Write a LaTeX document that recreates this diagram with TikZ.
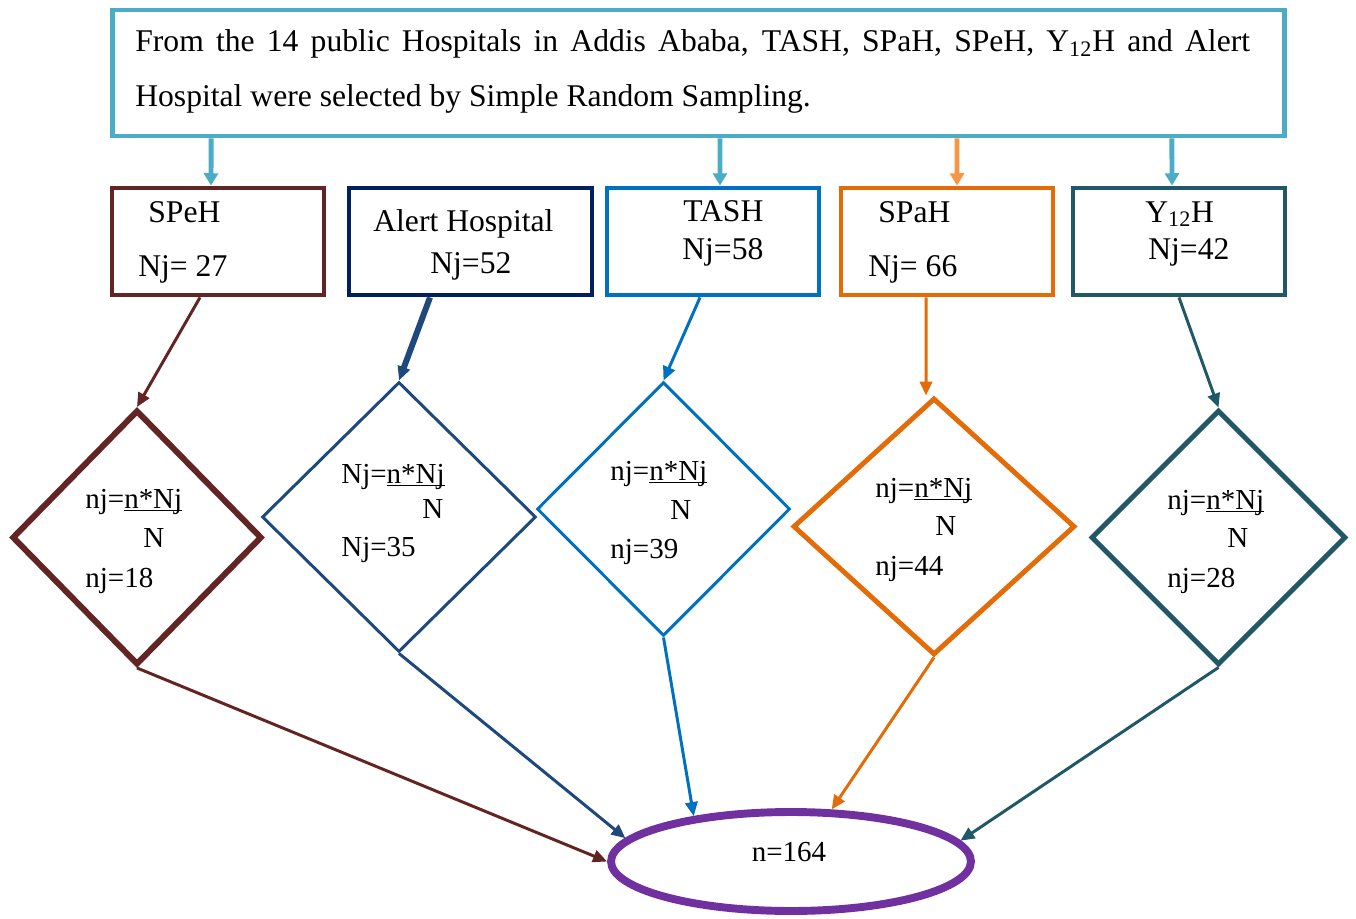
\documentclass[tikz,border=0pt]{standalone}
\usepackage{fontspec}
\setmainfont{Liberation Serif}
\usetikzlibrary{arrows.meta,shapes.geometric}
\definecolor{topblue}{HTML}{4BACC6}
\definecolor{toporange}{HTML}{F79646}
\definecolor{spehcol}{HTML}{632523}
\definecolor{alertcol}{HTML}{002060}
\definecolor{alertline}{HTML}{1F497D}
\definecolor{tashcol}{HTML}{0070C0}
\definecolor{spahcol}{HTML}{E36C09}
\definecolor{yekcol}{HTML}{215868}
\definecolor{totalcol}{HTML}{7030A0}
\newcommand{\ratio}{\underline{\smash{n*Nj}\vphantom{N}}}
\tikzset{
    hosp box/.style = {
        draw, rectangle,
        line width=2.8pt,
        minimum width=4.24cm,
        minimum height=2.14cm,
        },
    calc box/.style = {
        draw, diamond,
        inner sep=0pt,
        line width=2.8pt,
        },
    btxt/.style = {
        anchor=base west,
        inner sep=0pt,
        font=\fontsize{18}{21}\selectfont,
        },
    dtxt/.style = {
        anchor=base west,
        inner sep=0pt,
        font=\fontsize{16.5}{19}\selectfont,
        },
    feed/.style = {
        draw=topblue,
        line width=2.8pt,
        -{Triangle[length=7pt,width=8pt]},
        },
    flow/.style = {
        line width=1.7pt,
        -{Triangle[length=8pt,width=7pt]},
        },
}
\begin{document}
\begin{tikzpicture}[x=0.02cm, y=-0.02cm]
    \useasboundingbox (0,0) rectangle (1356,919);

    \node[hosp box, draw=topblue, minimum width=23.46cm, minimum height=2.52cm] (main) at (698.5,73) {};
    \node[btxt] (main top) at (135,52) {\makebox[22.3cm][s]{From the 14 public Hospitals in Addis Ababa, TASH, SPaH, SPeH, Y\textsubscript{12}H and Alert}};
    \node[btxt] (main bot) at (135,107) {Hospital were selected by Simple Random Sampling.};

    \node[hosp box, draw=spehcol] (speh) at (218,241.5) {};
    \node[hosp box, draw=alertcol, minimum width=4.86cm] (alert) at (470.5,241.5) {};
    \node[hosp box, draw=tashcol] (tash) at (713,241.5) {};
    \node[hosp box, draw=spahcol] (spah) at (947,241.5) {};
    \node[hosp box, draw=yekcol] (yek) at (1179,241.5) {};

    \node[btxt] (speh name) at (148,222) {SPeH};
    \node[btxt] (speh size) at (138,276) {Nj= 27};
    \node[btxt] (alert name) at (373,231) {Alert Hospital};
    \node[btxt] (alert size) at (430,273) {Nj=52};
    \node[btxt] (tash name) at (683,221) {TASH};
    \node[btxt] (tash size) at (682,259) {Nj=58};
    \node[btxt] (spah name) at (878,222) {SPaH};
    \node[btxt] (spah size) at (868,276) {Nj= 66};
    \node[btxt] (yek name) at (1145,222) {Y\textsubscript{12}H};
    \node[btxt] (yek size) at (1148,259) {Nj=42};

    \node[calc box, draw=spehcol, line width=3.4pt, minimum width=5cm, minimum height=5.1cm] (d1) at (137,537.5) {};
    \node[calc box, draw=alertline, line width=1.7pt, minimum width=5.48cm, minimum height=5.4cm] (d2) at (399,517) {};
    \node[calc box, draw=tashcol, line width=1.7pt, minimum width=5.06cm, minimum height=5.08cm] (d3) at (663.5,509) {};
    \node[calc box, draw=spahcol, minimum width=5.64cm, minimum height=5.14cm] (d4) at (934,526.5) {};
    \node[calc box, draw=yekcol, minimum width=5.1cm, minimum height=5.1cm] (d5) at (1218.5,537.5) {};

    \node[dtxt] (d1 rule) at (85,508) {nj=\ratio};
    \node[dtxt] (d1 den) at (143,547) {N};
    \node[dtxt] (d1 val) at (85,587) {nj=18};
    \node[dtxt] (d2 rule) at (341,483) {Nj=\ratio};
    \node[dtxt] (d2 den) at (422,518) {N};
    \node[dtxt] (d2 val) at (341,556) {Nj=35};
    \node[dtxt] (d3 rule) at (610,480) {nj=\ratio};
    \node[dtxt] (d3 den) at (670,519) {N};
    \node[dtxt] (d3 val) at (610,558) {nj=39};
    \node[dtxt] (d4 rule) at (875,497) {nj=\ratio};
    \node[dtxt] (d4 den) at (935,535) {N};
    \node[dtxt] (d4 val) at (875,575) {nj=44};
    \node[dtxt] (d5 rule) at (1167,509) {nj=\ratio};
    \node[dtxt] (d5 den) at (1227,547) {N};
    \node[dtxt] (d5 val) at (1167,587) {nj=28};

    \node[draw=totalcol, ellipse, line width=4.5pt, minimum width=7.2cm, minimum height=1.98cm] (tot) at (791,861.5) {};
    \node[dtxt, anchor=base] (tot val) at (789,861) {n=164};

    \path ([xshift=-9.75cm]main.south) edge[feed] ([xshift=-0.14cm]speh.north);
    \path ([xshift=0.43cm]main.south) edge[feed] ([xshift=0.14cm]tash.north);
    \path ([xshift=5.17cm]main.south) edge[feed, draw=toporange] ([xshift=0.2cm]spah.north);
    \path ([xshift=9.47cm]main.south) edge[feed] ([xshift=-0.14cm]yek.north);

    \path ([xshift=-0.36cm]speh.south) edge[flow, spehcol] (d1.north);
    \path ([xshift=-0.81cm]alert.south) edge[flow, alertline, line width=3.4pt] (d2.north);
    \path ([xshift=-0.26cm]tash.south) edge[flow, tashcol] (d3.north);
    \path ([xshift=-0.42cm]spah.south) edge[flow, spahcol] ([xshift=-0.16cm]d4.north);
    \path (yek.south) edge[flow, yekcol] (d5.north);

    \path (d1.south) edge[flow, spehcol] (tot.180);
    \path (d2.south) edge[flow, alertline] (tot.172);
    \path (d3.south) edge[flow, tashcol] (tot.155);
    \path (d4.south) edge[flow, spahcol] (tot.52);
    \path (d5.south) edge[flow, yekcol] (tot.7);
\end{tikzpicture}
\end{document}
